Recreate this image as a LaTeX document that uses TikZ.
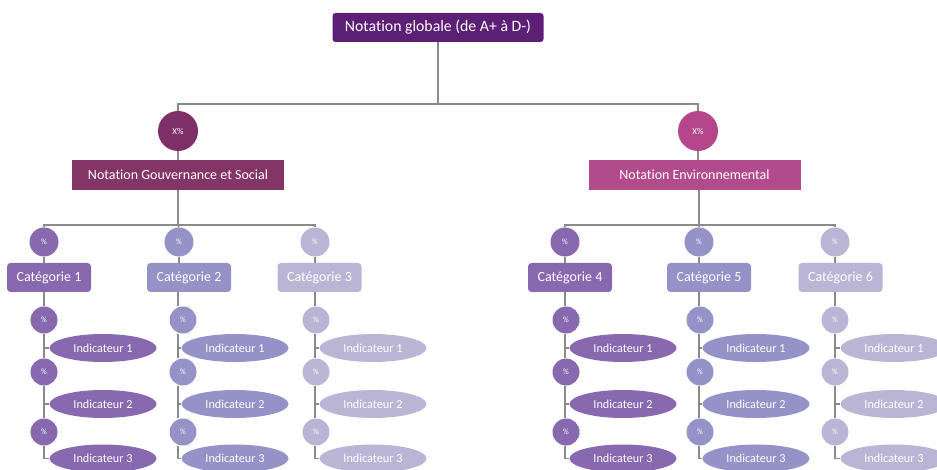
\documentclass[tikz,border=0pt]{standalone}
\usepackage{fontspec}
\setmainfont{Carlito}[Ligatures=NoCommon]
\usetikzlibrary{shapes.geometric}
\definecolor{ctop}{HTML}{5D1F76}
\definecolor{cgsc}{HTML}{7F2F67}
\definecolor{cgsb}{HTML}{843568}
\definecolor{cenc}{HTML}{B4478B}
\definecolor{cenb}{HTML}{B24B8C}
\definecolor{cA}{HTML}{8868AF}
\definecolor{cB}{HTML}{9492C6}
\definecolor{cC}{HTML}{BBB5D5}
\definecolor{cline}{HTML}{8A8A8A}
\begin{document}
\begin{tikzpicture}[x=1pt,y=-1pt,
  topbox/.style={fill=ctop, rounded corners=3pt, minimum width=211pt, minimum height=29pt, inner sep=0pt, text=white, font=\fontsize{15.8}{16}\selectfont},
  notbox/.style={fill=#1, minimum width=212pt, minimum height=30pt, inner sep=0pt, text=white, font=\fontsize{14}{15}\selectfont},
  bigcirc/.style={circle, fill=#1, minimum size=40pt, inner sep=0pt, text=white, font=\fontsize{9}{10}\selectfont},
  catcirc/.style={circle, fill=#1, minimum size=29pt, inner sep=0pt, text=white, font=\fontsize{8}{9}\selectfont},
  subcirc/.style={circle, fill=#1, minimum size=27pt, inner sep=0pt, text=white, font=\fontsize{8}{9}\selectfont},
  catbox/.style={fill=#1, rounded corners=3.5pt, minimum width=84pt, minimum height=29pt, inner sep=0pt, text=white, font=\fontsize{14}{15}\selectfont},
  indic/.style={ellipse, fill=#1, minimum width=107pt, minimum height=28pt, inner sep=0pt, text=white, font=\fontsize{12.2}{13}\selectfont},
  conn/.style={draw=cline, line width=1.3pt},
]
\useasboundingbox (0,0) rectangle (937,470);
\clip (0,0) rectangle (937,470);

% top levels
\node[topbox] (top) at (438,27.5) {Notation globale (de A+ à D-)};
\node[bigcirc=cgsc] (xl) at (178,131) {X\%};
\node[bigcirc=cenc] (xr) at (698,131) {X\%};
\node[notbox=cgsb] (gs) at (178,175) {Notation Gouvernance et Social};
\node[notbox=cenb] (en) at (694.5,175) {Notation Environnemental};

\coordinate (b0) at (438,104);
\coordinate (bl) at (178,225);
\coordinate (br) at (699,225);

% columns: index / line x / top circle x / box x / sub circle x / ellipse x / colour
\foreach \i/\lx/\tx/\bx/\sx/\ex/\col in {
  1/44/44/49/44/103/cA,
  2/178/179/189/183/235/cB,
  3/315/315/319.5/316/373/cC,
  4/565/565/570/566/623/cA,
  5/699/699/709/700/756/cB,
  6/835/835/840.5/835/894/cC}{
  \coordinate (L\i) at (\lx,0);
  \node[catcirc=\col] (c\i) at (\tx,242) {\%};
  \node[catbox=\col] (cat\i) at (\bx,277.5) {Catégorie \i};
  \node[subcirc=\col] (s\i a) at (\sx,320) {\%};
  \node[subcirc=\col] (s\i b) at (\sx,372) {\%};
  \node[subcirc=\col] (s\i c) at (\sx,432) {\%};
  \node[indic=\col] (e\i a) at (\ex,348) {Indicateur 1};
  \node[indic=\col] (e\i b) at (\ex,404) {Indicateur 2};
  \node[indic=\col] (e\i c) at (\ex,458.5) {Indicateur 3};
}

% connectors
\draw[conn] (top.south) -- (b0);
\draw[conn] (xl.north) |- (b0) -| (xr.north);
\draw[conn] (xl.south) -- (gs.north);
\draw[conn] (xr.south) -- (xr.south |- en.north);
\draw[conn] (gs.south -| bl) -- (bl);
\draw[conn] (en.south -| br) -- (br);
\draw[conn] (c1.north) |- (bl) -| (c3.north);
\draw[conn] (bl) -- (c2.north);
\draw[conn] (c4.north) |- (br) -| (c6.north);
\draw[conn] (br) -- (c5.north);

\foreach \i in {1,...,6}{
  \draw[conn] (c\i.south) -- (c\i.south |- cat\i.north);
  \draw[conn] (L\i |- cat\i.south) -- (L\i |- s\i a.north);
  \draw[conn] (L\i |- s\i a.south) -- (L\i |- s\i b.north);
  \draw[conn] (L\i |- s\i b.south) -- (L\i |- s\i c.north);
  \draw[conn] (L\i |- s\i c.south) -- (L\i |- e\i c.west) -- (e\i c.west);
  \draw[conn] (L\i |- e\i a.west) -- (e\i a.west);
  \draw[conn] (L\i |- e\i b.west) -- (e\i b.west);
}
\end{tikzpicture}
\end{document}
